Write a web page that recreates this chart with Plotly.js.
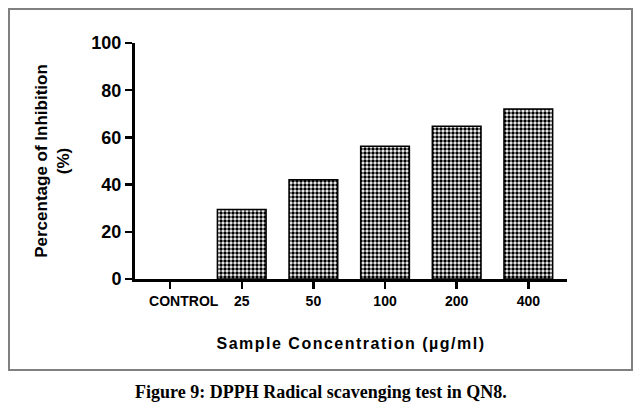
<!DOCTYPE html>
<html>
<head>
<meta charset="utf-8">
<script src="https://cdn.plot.ly/plotly-3.0.1.min.js"></script>
<style>
  body { margin: 0; background: #fff; }
  #plot { width: 641px; height: 416px; }
  .xtitle { letter-spacing: 1.5px; }
</style>
</head>
<body>
<div id="plot"></div>
<script>
// DPPH radical scavenging, % inhibition per sample concentration
const categories = ["CONTROL", "25", "50", "100", "200", "400"]
const tick_labels = ["\u00A0\u00A0\u00A0\u00A0\u00A0\u00A0\u00A0CONTROL", "25", "50", "100", "200", "400"]
const inhibition = [0, 29.4, 42.1, 56.2, 64.7, 72.0]

const W = 641, H = 416
const margin = { l: 135, r: 74, t: 43, b: 137 }
const plot_w = W - margin.l - margin.r
const plot_h = H - margin.t - margin.b

// pixel -> paper helpers for the frame and caption
const px = x => (x - margin.l) / plot_w
const py = y => (H - margin.b - y) / plot_h

// no outline on an empty (zero) bar
const outline = inhibition.map(v => v > 0 ? 1.5 : 0)

const data = [{
    type: "bar",
    x: categories,
    y: inhibition,
    width: 0.68,
    marker: {
        color: "#ffffff",
        line: { color: "#000000", width: outline },
        pattern: { shape: ".", fgcolor: "#000000", bgcolor: "#ffffff", size: 4, solidity: 0.6 }
    },
    hoverinfo: "none"
}]

const layout = {
    width: W, height: H,
    margin: margin,
    paper_bgcolor: "#ffffff",
    plot_bgcolor: "#ffffff",
    showlegend: false,
    font: { family: "Liberation Sans, Arial, sans-serif", color: "#000000" },
    xaxis: {
        type: "category",
        range: [-0.49, 5.54],
        tickvals: categories,
        ticktext: tick_labels,
        showgrid: false, zeroline: false,
        showline: true, linecolor: "#000000", linewidth: 3,
        ticks: "outside", ticklen: 7, tickwidth: 2.5, tickcolor: "#000000",
        tickfont: { size: 14, weight: "bold" },
        title: { text: "Sample Concentration (µg/ml)", font: { size: 16, weight: "bold" }, standoff: 31 }
    },
    yaxis: {
        range: [0, 100],
        tickvals: [0, 20, 40, 60, 80, 100],
        showgrid: false, zeroline: false,
        showline: true, linecolor: "#000000", linewidth: 3,
        ticks: "outside", ticklen: 7, tickwidth: 2.5, tickcolor: "#000000",
        tickfont: { size: 18, weight: "bold" },
        title: { text: "Percentage of Inhibition<br>(%)", font: { size: 17, weight: "bold" }, standoff: 18 }
    },
    shapes: [{
        type: "rect", xref: "paper", yref: "paper",
        x0: px(9), x1: px(632), y0: py(370), y1: py(9),
        line: { color: "#808080", width: 2 }
    }],
    annotations: [{
        xref: "paper", yref: "paper",
        x: px(321), y: py(392),
        xanchor: "center", yanchor: "middle",
        showarrow: false,
        text: "<b>Figure 9: DPPH Radical scavenging test in QN8.</b>",
        font: { family: "Liberation Serif, Times New Roman, serif", size: 18, color: "#000000" }
    }]
}

Plotly.newPlot("plot", data, layout, { displayModeBar: false, staticPlot: true })
</script>
</body>
</html>
